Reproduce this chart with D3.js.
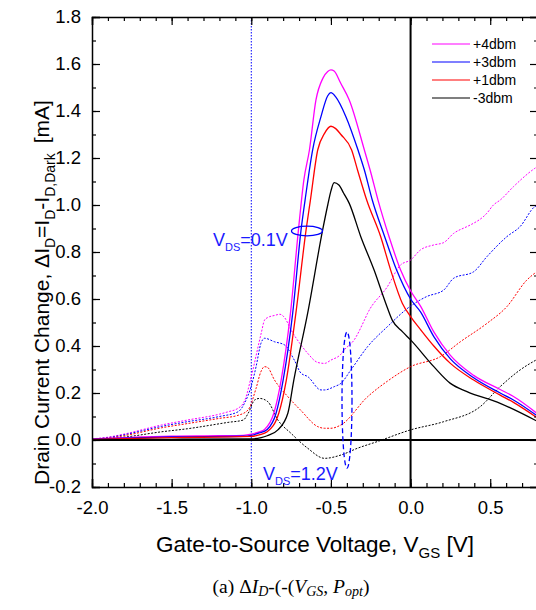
<!DOCTYPE html>
<html>
<head>
<meta charset="utf-8">
<script src="https://cdn.jsdelivr.net/npm/d3@7"></script>
<style>
html,body{margin:0;padding:0;background:#fff;}
svg{display:block;font-family:Arial,"Liberation Sans",sans-serif;}
</style>
</head>
<body>
<svg id="chart" width="536" height="610"></svg>
<script>
// ---- data (VGS in V, ΔI_D in mA) ----
const seriesNames = ["+4dbm", "+3dbm", "+1dbm", "-3dbm"];
const seriesColors = ["#ff00ff", "#0000ff", "#ff0000", "#000000"];

// VDS = 0.1 V (solid)
const low4 = [[-2.0,0.005],[-1.8,0.01],[-1.5,0.016],[-1.2,0.018],[-1.05,0.02],[-1.0,0.025],[-0.95,0.035],[-0.917,0.045],[-0.858,0.115],[-0.8125,0.255],[-0.754,0.54],[-0.704,0.894],[-0.67,1.106],[-0.635,1.234],[-0.594,1.447],[-0.55,1.54],[-0.52,1.568],[-0.5,1.575],[-0.48,1.57],[-0.44,1.52],[-0.385,1.447],[-0.29,1.234],[-0.254,1.149],[-0.204,1.02],[-0.135,0.865],[-0.0625,0.723],[0.0,0.635],[0.0625,0.57],[0.146,0.46],[0.25,0.36],[0.396,0.275],[0.5625,0.215],[0.646,0.185],[0.8,0.11]];
const low3 = [[-2.0,0.004],[-1.5,0.013],[-1.05,0.016],[-1.0,0.02],[-0.95,0.03],[-0.9,0.045],[-0.844,0.115],[-0.8,0.255],[-0.74,0.54],[-0.6875,0.894],[-0.6625,1.02],[-0.615,1.234],[-0.5625,1.376],[-0.52,1.465],[-0.5,1.478],[-0.47,1.46],[-0.406,1.376],[-0.33,1.234],[-0.29,1.149],[-0.24,1.02],[-0.1625,0.865],[-0.0875,0.723],[0.0,0.60],[0.0625,0.545],[0.146,0.44],[0.25,0.345],[0.396,0.265],[0.5625,0.2],[0.646,0.17],[0.8,0.10]];
const low1 = [[-2.0,0.003],[-1.5,0.01],[-1.0,0.015],[-0.95,0.022],[-0.9,0.035],[-0.827,0.115],[-0.78,0.255],[-0.72,0.54],[-0.656,0.894],[-0.629,1.02],[-0.583,1.234],[-0.54,1.305],[-0.5,1.335],[-0.47,1.325],[-0.4375,1.3],[-0.37,1.234],[-0.333,1.149],[-0.275,1.02],[-0.1875,0.865],[-0.125,0.723],[-0.052,0.582],[0.0,0.525],[0.0625,0.47],[0.146,0.40],[0.25,0.326],[0.396,0.255],[0.5625,0.191],[0.646,0.16],[0.8,0.092]];
const lowM3 = [[-2.0,0.0],[-1.5,0.003],[-1.0,0.005],[-0.9375,0.01],[-0.9,0.018],[-0.833,0.043],[-0.77,0.115],[-0.733,0.255],[-0.646,0.54],[-0.552,0.894],[-0.52,1.0],[-0.5,1.06],[-0.48,1.095],[-0.45,1.085],[-0.42,1.05],[-0.385,1.007],[-0.3125,0.865],[-0.229,0.723],[-0.156,0.582],[-0.115,0.51],[-0.05,0.46],[0.0,0.426],[0.146,0.312],[0.25,0.241],[0.354,0.206],[0.5625,0.156],[0.8,0.078]];

// VDS = 1.2 V (dotted)
const high4 = [[-2.0,0.005],[-1.9,0.012],[-1.8,0.025],[-1.5625,0.064],[-1.4,0.085],[-1.2,0.11],[-1.146,0.12],[-1.083,0.135],[-1.04,0.17],[-1.0,0.27],[-0.9375,0.455],[-0.917,0.51],[-0.9,0.52],[-0.854,0.53],[-0.82,0.535],[-0.79,0.52],[-0.75,0.468],[-0.6875,0.404],[-0.646,0.369],[-0.583,0.33],[-0.54,0.326],[-0.5,0.34],[-0.4375,0.365],[-0.417,0.383],[-0.354,0.426],[-0.29,0.51],[-0.27,0.539],[-0.146,0.652],[-0.0625,0.745],[0.0,0.766],[0.0625,0.809],[0.146,0.83],[0.208,0.84],[0.27,0.879],[0.354,0.908],[0.375,0.915],[0.479,0.965],[0.52,1.0],[0.5625,1.021],[0.646,1.078],[0.78,1.156],[0.8,1.165]];
const high3 = [[-2.0,0.004],[-1.9,0.01],[-1.8,0.022],[-1.5625,0.058],[-1.4,0.078],[-1.2,0.1],[-1.083,0.12],[-1.04,0.16],[-1.0,0.23],[-0.97,0.312],[-0.94,0.41],[-0.917,0.433],[-0.854,0.418],[-0.79,0.404],[-0.73,0.34],[-0.6875,0.284],[-0.646,0.27],[-0.5625,0.213],[-0.54,0.213],[-0.479,0.227],[-0.4375,0.241],[-0.375,0.298],[-0.27,0.397],[-0.146,0.482],[0.0,0.57],[0.1,0.61],[0.208,0.638],[0.27,0.688],[0.396,0.716],[0.479,0.78],[0.604,0.865],[0.6875,0.908],[0.78,0.993],[0.8,1.0]];
const high1 = [[-2.0,0.003],[-1.9,0.008],[-1.8,0.018],[-1.5625,0.052],[-1.4,0.07],[-1.2,0.092],[-1.083,0.105],[-1.02,0.128],[-0.97,0.22],[-0.94,0.29],[-0.917,0.312],[-0.9,0.31],[-0.854,0.255],[-0.77,0.184],[-0.6875,0.125],[-0.583,0.057],[-0.54,0.05],[-0.5,0.05],[-0.4375,0.064],[-0.27,0.184],[-0.146,0.25],[0.0,0.312],[0.1875,0.355],[0.3125,0.418],[0.479,0.496],[0.604,0.567],[0.729,0.68],[0.8,0.72]];
const highM3 = [[-2.0,0.002],[-1.9,0.006],[-1.8,0.012],[-1.5625,0.035],[-1.4,0.048],[-1.146,0.075],[-1.05,0.085],[-1.02,0.113],[-0.979,0.17],[-0.948,0.177],[-0.896,0.163],[-0.833,0.085],[-0.75,0.028],[-0.646,-0.035],[-0.54,-0.078],[-0.4375,-0.064],[-0.333,-0.035],[-0.21,-0.007],[0.0,0.043],[0.208,0.078],[0.4375,0.142],[0.5625,0.227],[0.6875,0.298],[0.8,0.345]];

const lowSeries = [low4, low3, low1, lowM3];
const highSeries = [high4, high3, high1, highM3];

const xDomain = [-2.0, 0.8];
const yDomain = [-0.2, 1.8];
const xTickValues = [-2.0, -1.5, -1.0, -0.5, 0.0, 0.5];
const yTickValues = [-0.2, 0.0, 0.2, 0.4, 0.6, 0.8, 1.0, 1.2, 1.4, 1.6, 1.8];
const markerVGS = -1.0;

// ---- drawing ----
const svg = d3.select("#chart");
const L = 92, R = 538, T = 17, B = 487;
const x = d3.scaleLinear().domain(xDomain).range([L, R]);
const y = d3.scaleLinear().domain(yDomain).range([B, T]);

svg.append("defs").append("clipPath").attr("id", "clip")
  .append("rect").attr("x", L).attr("y", T).attr("width", R - L).attr("height", B - T);

const line = d3.line().x(d => x(d[0])).y(d => y(d[1])).curve(d3.curveMonotoneX);
const plot = svg.append("g").attr("clip-path", "url(#clip)");

// dotted marker at VGS=-1.0
plot.append("line").attr("x1", x(markerVGS)).attr("x2", x(markerVGS)).attr("y1", T).attr("y2", B)
  .attr("stroke", "#0000ff").attr("stroke-width", 1).attr("stroke-dasharray", "1.5,1.5");

// zero lines
plot.append("line").attr("x1", L).attr("x2", R).attr("y1", y(0)).attr("y2", y(0))
  .attr("stroke", "#000").attr("stroke-width", 2);
plot.append("line").attr("x1", x(0)).attr("x2", x(0)).attr("y1", T).attr("y2", B)
  .attr("stroke", "#000").attr("stroke-width", 2);

highSeries.forEach((s, i) => {
  plot.append("path").datum(s).attr("d", line).attr("fill", "none")
    .attr("stroke", seriesColors[i]).attr("stroke-width", 1).attr("stroke-dasharray", "2,1.5");
});
lowSeries.forEach((s, i) => {
  plot.append("path").datum(s).attr("d", line).attr("fill", "none")
    .attr("stroke", seriesColors[i]).attr("stroke-width", 1.3);
});

// axes (ticks inward)
const xMinor = d3.range(-20, 9).map(v => v / 10);
const yMinor = d3.range(-2, 19).map(v => v / 10);
function axisGroup(axisGen, tx, ty) {
  const g = svg.append("g").attr("transform", `translate(${tx},${ty})`).call(axisGen);
  g.select(".domain").attr("stroke-width", 1.5);
  g.selectAll(".tick line").attr("stroke-width", 1.2);
  return g;
}
const fmt = d3.format(".1f");
const fmtMinus = v => fmt(v).replace("−", "-");

axisGroup(d3.axisBottom(x).tickValues(xTickValues).tickSize(-8).tickPadding(14).tickFormat(fmtMinus), 0, B);
axisGroup(d3.axisBottom(x).tickValues(xMinor).tickSize(-4).tickFormat(""), 0, B).select(".domain").remove();
axisGroup(d3.axisTop(x).tickValues(xTickValues).tickSize(-8).tickFormat(""), 0, T);
axisGroup(d3.axisTop(x).tickValues(xMinor).tickSize(-4).tickFormat(""), 0, T).select(".domain").remove();
axisGroup(d3.axisLeft(y).tickValues(yTickValues).tickSize(-8).tickPadding(11).tickFormat(fmtMinus), L, 0);
axisGroup(d3.axisLeft(y).tickValues(yMinor).tickSize(-4).tickFormat(""), L, 0).select(".domain").remove();
axisGroup(d3.axisRight(y).tickValues(yTickValues).tickSize(-8).tickFormat(""), R, 0);
axisGroup(d3.axisRight(y).tickValues(yMinor).tickSize(-4).tickFormat(""), R, 0).select(".domain").remove();
svg.selectAll(".tick text").attr("font-size", 18.5).attr("font-family", "Arial, 'Liberation Sans', sans-serif").attr("fill", "#000");

// legend
const legend = svg.append("g");
seriesNames.forEach((n, i) => {
  const ly = 44 + i * 18;
  legend.append("line").attr("x1", 432).attr("x2", 470).attr("y1", ly).attr("y2", ly)
    .attr("stroke", seriesColors[i]).attr("stroke-width", 1.2);
  legend.append("text").attr("x", 473).attr("y", ly + 5).attr("font-size", 14).text(n);
});

// annotations
function vds(xp, yp, val) {
  const t = svg.append("text").attr("x", xp).attr("y", yp).attr("fill", "#1a1aff").attr("font-size", 18);
  t.append("tspan").text("V");
  t.append("tspan").attr("font-size", 11).attr("dy", 5).text("DS");
  t.append("tspan").attr("dy", -5).text("=" + val);
}
vds(213, 246, "0.1V");
vds(263, 480, "1.2V");
svg.append("ellipse").attr("cx", 307).attr("cy", 231).attr("rx", 15.5).attr("ry", 4.8)
  .attr("fill", "none").attr("stroke", "#0000ff").attr("stroke-width", 1.3);
svg.append("ellipse").attr("cx", 347).attr("cy", 400).attr("rx", 5).attr("ry", 68)
  .attr("fill", "none").attr("stroke", "#0000ff").attr("stroke-width", 1.3).attr("stroke-dasharray", "5,3");

// axis titles
const xt = svg.append("text").attr("x", 315).attr("y", 552).attr("text-anchor", "middle").attr("font-size", 22.5);
xt.append("tspan").text("Gate-to-Source Voltage, V");
xt.append("tspan").attr("font-size", 15).attr("dy", 6).text("GS");
xt.append("tspan").attr("dy", -6).text(" [V]");

const yt = svg.append("text").attr("transform", "translate(49,485) rotate(-90)").attr("text-anchor", "start").attr("font-size", 21);
yt.append("tspan").text("Drain Current Change, ΔI");
yt.append("tspan").attr("font-size", 14).attr("dy", 6).text("D");
yt.append("tspan").attr("dy", -6).text("=I");
yt.append("tspan").attr("font-size", 14).attr("dy", 6).text("D");
yt.append("tspan").attr("dy", -6).text("-I");
yt.append("tspan").attr("font-size", 14).attr("dy", 6).text("D,Dark");
yt.append("tspan").attr("dy", -6).attr("dx", 10).text("[mA]");

// caption
const cap = svg.append("text").attr("x", 291).attr("y", 593).attr("text-anchor", "middle")
  .attr("font-size", 19.5).attr("font-family", "'Liberation Serif','Times New Roman',serif");
cap.append("tspan").text("(a) Δ");
cap.append("tspan").attr("font-style", "italic").text("I");
cap.append("tspan").attr("font-style", "italic").attr("font-size", 14).attr("dy", 3).text("D");
cap.append("tspan").attr("dy", -3).text("-(-(");
cap.append("tspan").attr("font-style", "italic").text("V");
cap.append("tspan").attr("font-style", "italic").attr("font-size", 14).attr("dy", 3).text("GS");
cap.append("tspan").attr("dy", -3).text(", ");
cap.append("tspan").attr("font-style", "italic").text("P");
cap.append("tspan").attr("font-style", "italic").attr("font-size", 14).attr("dy", 3).text("opt");
cap.append("tspan").attr("dy", -3).text(")");
</script>
</body>
</html>
